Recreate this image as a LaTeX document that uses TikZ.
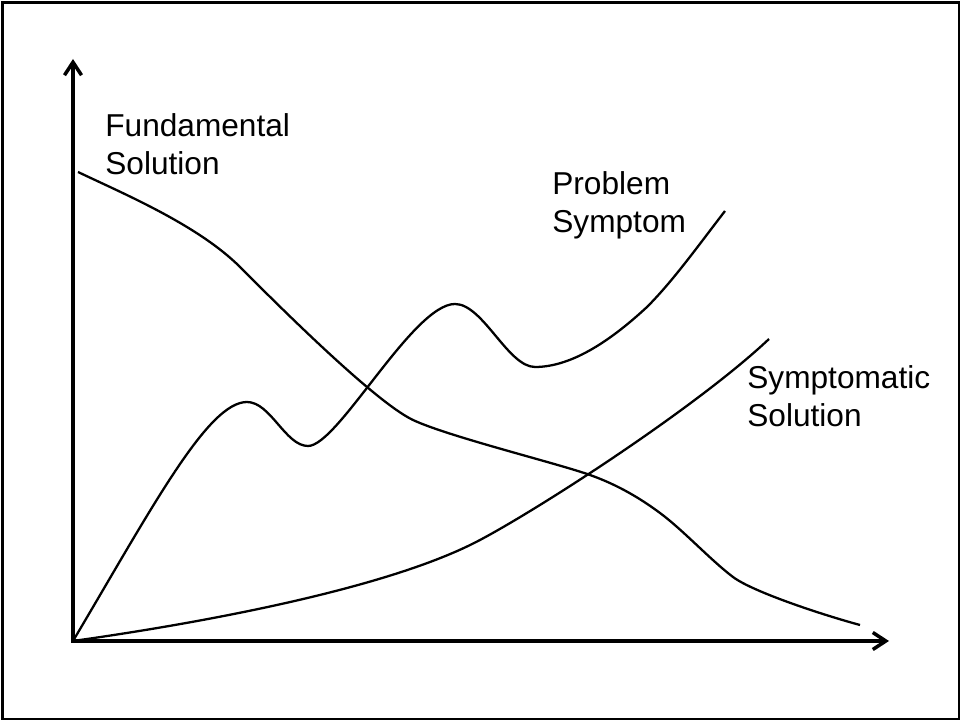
\documentclass[tikz,border=0pt]{standalone}
\usepackage{fontspec}
\setmainfont{Liberation Sans}
\usetikzlibrary{arrows.meta}
\begin{document}
\begin{tikzpicture}[
  axis/.style={line width=2pt, {Straight Barb[length=0.26cm,width=0.34cm]}-{Straight Barb[length=0.26cm,width=0.34cm]}},
  curve/.style={line width=1.3pt},
  lbl/.style={anchor=base west, inner sep=0pt, align=left, font=\fontsize{18pt}{22pt}\selectfont}]
% Frame and axes
\useasboundingbox (-1.46,-1.62) rectangle (17.76,12.82);
\draw[line width=1.2pt] (-1.41,-1.56) rectangle (17.72,12.77);
\draw[axis] (0,11.64) |- (16.32,0);
% Fundamental solution
\draw[curve] (0.10,9.38) .. controls (1.0,8.95) and (2.5,8.32) .. (3.34,7.48)
  .. controls (3.9,6.92) and (6.0,4.80) .. (6.80,4.42)
  .. controls (7.5,4.09) and (9.7,3.55) .. (10.34,3.32)
  .. controls (10.9,3.12) and (11.35,2.85) .. (11.74,2.56)
  .. controls (12.2,2.22) and (12.75,1.62) .. (13.20,1.28)
  .. controls (13.6,0.98) and (15.0,0.52) .. (15.74,0.32);
\node[lbl] (fund) at (0.64,9.32) {Fundamental\\Solution};
% Problem symptom
\draw[curve] (0,0) .. controls (1.6,2.7) and (2.7,4.78) .. (3.48,4.78)
  .. controls (3.95,4.78) and (4.25,3.90) .. (4.70,3.90)
  .. controls (5.3,3.90) and (6.8,6.74) .. (7.64,6.74)
  .. controls (8.2,6.74) and (8.7,5.48) .. (9.24,5.48)
  .. controls (10.0,5.48) and (10.8,6.05) .. (11.48,6.68)
  .. controls (12.0,7.2) and (12.5,7.9) .. (13.04,8.60);
\node[lbl] (prob) at (9.58,8.16) {Problem\\Symptom};
% Symptomatic solution
\draw[curve] (0,0) .. controls (2.5,0.35) and (6.3,1.04) .. (8.14,2.02)
  .. controls (9.4,2.69) and (12.5,4.7) .. (13.92,6.04);
\node[lbl] (symp) at (13.48,4.28) {Symptomatic\\Solution};
\end{tikzpicture}
\end{document}
